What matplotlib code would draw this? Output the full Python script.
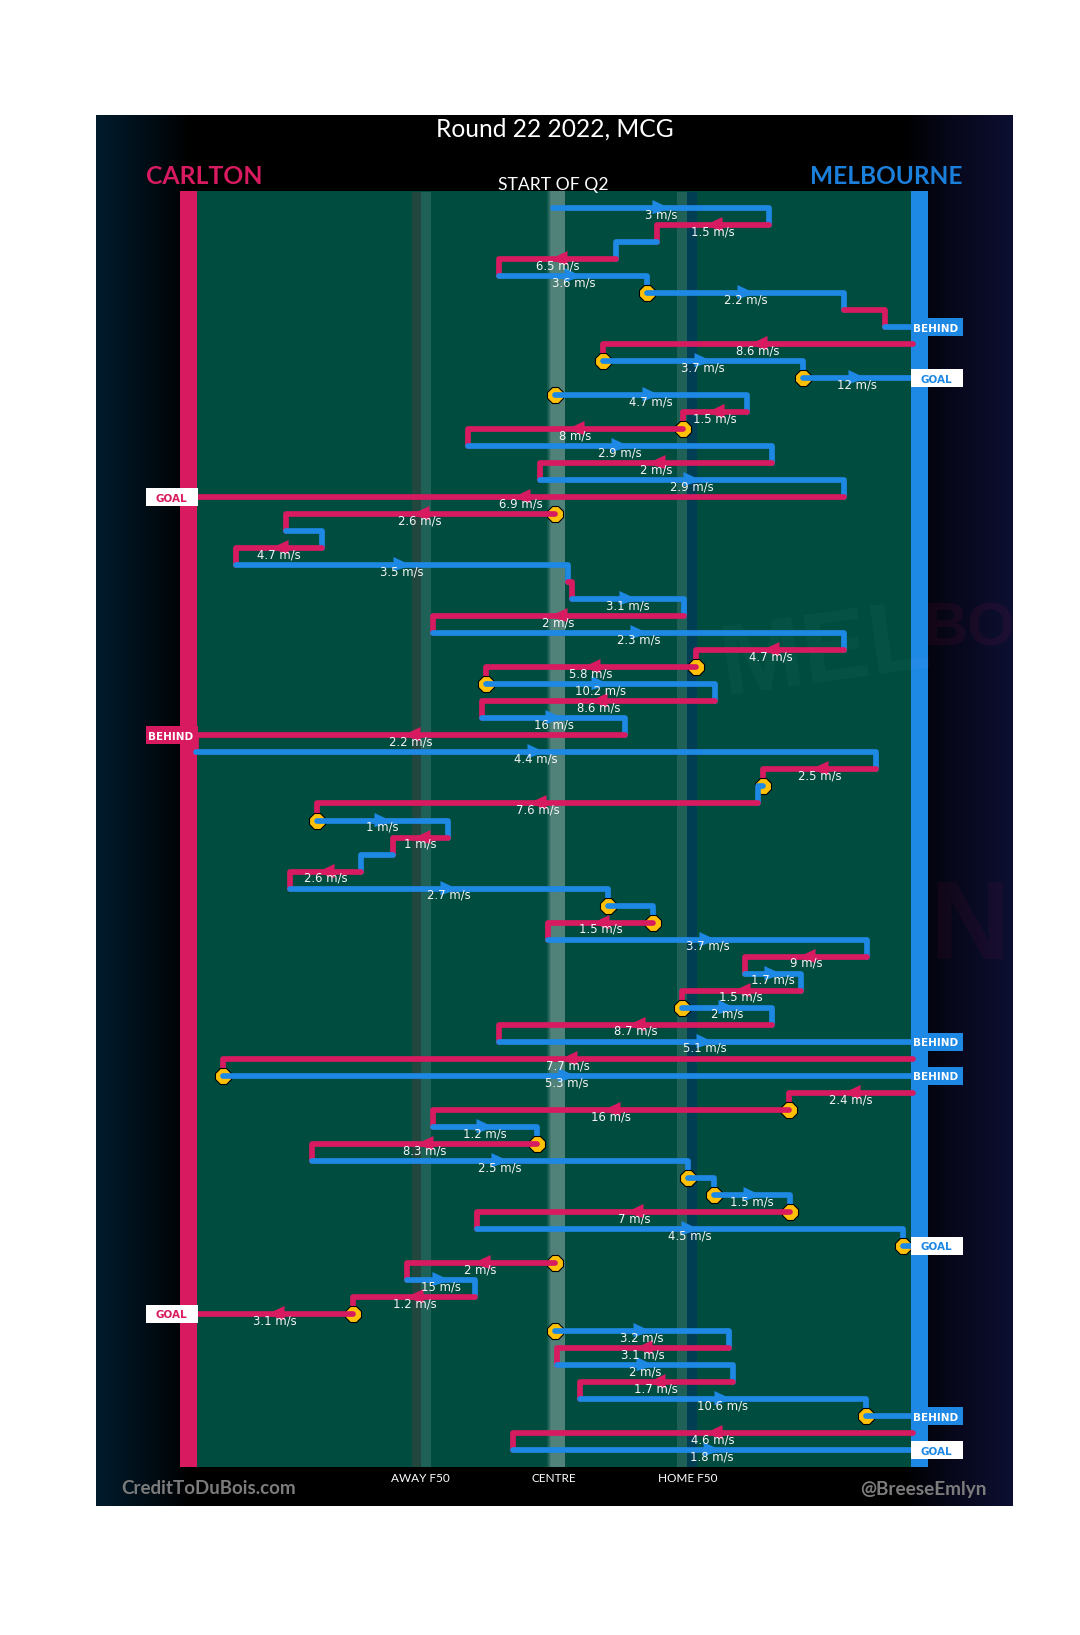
import numpy as np
import matplotlib
matplotlib.use("Agg")
import matplotlib.pyplot as plt
from matplotlib.patches import Rectangle
from matplotlib.path import Path

RED, BLUE, FIELD, YEL = "#D81B60", "#1E88E5", "#004D40", "#FFC107"

# one entry per row of the chart: team, from, to, speed label
team = ["B","R","B","R","B","B","R","B","R","B","B","B","R","R","B","R","B","R","R","B","R","B","R","B","R","B","R","R","B","R","B","R","B","R","B","R","B","R","B","R","B","B","R","B","R","B","R","B","R","B","R","B","R","R","B","R","B","B","B","R","B","B","R","B","R","R","B","R","B","R","B","B","R","B"]
x_from = [530,738,630,591,479,621,810,849,876,578,770,532,717,655,449,741,518,810,532,274,309,226,545,549,656,415,810,668,466,686,462,600,188,840,732,727,304,430,377,346,278,583,626,526,832,715,768,654,741,479,876,214,876,757,415,515,299,660,685,758,458,866,532,390,456,339,532,699,534,703,556,831,876,492]
x_to   = [738,630,591,479,621,810,849,874,578,770,874,717,655,449,741,518,810,189,274,309,226,545,549,656,415,810,668,466,686,462,600,188,840,732,727,304,430,377,346,278,583,626,526,832,715,768,654,741,479,874,214,874,757,415,515,299,660,685,758,458,866,874,390,456,339,189,699,534,703,556,831,874,492,874]
speed  = ["3","1.5","","6.5","3.6","2.2","","","8.6","3.7","12","4.7","1.5","8","2.9","2","2.9","6.9","2.6","","4.7","3.5","","3.1","2","2.3","4.7","5.8","10.2","8.6","16","2.2","4.4","2.5","","7.6","1","1","","2.6","2.7","","1.5","3.7","9","1.7","1.5","2","8.7","5.1","7.7","5.3","2.4","16","1.2","8.3","2.5","","1.5","7","4.5","","2","15","1.2","3.1","3.2","3.1","2","1.7","10.6","","4.6","1.8"]
stoppage_rows = [5,9,10,11,13,18,27,28,34,36,41,42,47,51,53,55,57,58,59,61,62,65,66,71]
score_rows = {7:"BEHIND",10:"GOAL",17:"GOAL",31:"BEHIND",49:"BEHIND",51:"BEHIND",61:"GOAL",65:"GOAL",71:"BEHIND",73:"GOAL"}
strip_labels = ["AWAY F50","CENTRE","HOME F50"]

W, H = 1080, 1635
fig = plt.figure(figsize=(W/100, H/100), dpi=100, facecolor="white")
ax = fig.add_axes([0, 0, 1, 1])
S = 1080/1036          # x units -> pixels
STEP = 17.014; Y0 = 208
px = lambda v: v/S                 # pixel x -> data x
py = lambda v: (v-Y0)/STEP         # pixel y -> data y
ax.axis("off")

# panel with side gradients
grad = np.zeros((1, 917, 3))
for i, x in enumerate(np.arange(917) + 96):
    if x < 190:
        grad[0, i] = np.array([0, 27, 44])/255*((190-x)/94)**0.9
    elif x > 905:
        grad[0, i] = np.array([13, 15, 50])/255*((x-905)/108)**0.8
ax.imshow(grad, extent=[px(96), px(1013), py(1506), py(115)], aspect="auto", zorder=0, interpolation="bilinear")
ax.set_xlim(0, W/S)
ax.set_ylim((H-Y0)/STEP, -Y0/STEP)

def rect(x0, x1, y0, y1, c, z=1):
    ax.add_patch(Rectangle((px(x0), py(y0)), px(x1)-px(x0), py(y1)-py(y0), fc=c, ec="none", zorder=z))

T, B = 191, 1467
rect(197, 911, T, B, FIELD)
rect(180, 197, T, B, RED)
rect(911, 928, T, B, BLUE)
rect(411.7, 421.5, T+1, B, "#21473E", 1.1)
rect(421.5, 431, T+1, B, "#1F6157", 1.1)
rect(676.7, 687, T+1, B, "#1F6157", 1.1)
rect(687, 697, T+1, B, "#003E54", 1.1)
rect(547, 565, T, B, "#50827A", 1.1)
for i, c in enumerate(["#0E5C50", "#205F55", "#336F66", "#43796F"]):
    rect(547+i, 548+i, T, B, c, 1.15)

# faint watermark
ax.text(px(825), py(655), "MEL", fontsize=72, fontweight="bold", family="Liberation Sans",
        rotation=8, color="white", alpha=0.028, ha="center", va="center", zorder=1.2)
ax.text(px(970), py(630), "BO", fontsize=44, fontweight="bold", family="Liberation Sans",
        color="#D81B60", alpha=0.08, ha="center", va="center", zorder=1.2)
ax.text(px(970), py(930), "N", fontsize=80, fontweight="bold", family="Liberation Sans",
        color="#D81B60", alpha=0.06, ha="center", va="center", zorder=1.2)

tri_r = Path([(-8, -5), (8, 0), (-8, 7.5), (-8, -5)], closed=True)
tri_l = Path([(8, -5), (-8, 0), (8, 7.5), (8, -5)], closed=True)

for i in range(len(team)):
    col = RED if team[i] == "R" else BLUE
    z = 3 + i*0.001
    if i in stoppage_rows:
        ax.plot([x_from[i]], [i], ls="none", marker="8", ms=12.8, mfc=YEL, mec="black", mew=0.8, zorder=z-0.0005)
    xx = [x_from[i], x_to[i]]
    yy = [i, i]
    if i+1 < len(team) and x_from[i+1] == x_to[i]:
        xx.append(x_to[i]); yy.append(i+1)
    ax.plot(xx, yy, color=col, lw=4.1, solid_capstyle="round", solid_joinstyle="round", zorder=z)
    if speed[i]:
        mid = (x_from[i]+x_to[i])/2
        ax.plot([mid], [i], ls="none", marker=tri_r if x_to[i] > x_from[i] else tri_l, ms=13,
                mfc=col, mec="none", zorder=z)
        ax.text(mid, i+0.40, f"{speed[i]} m/s", color="#F4F4F4", fontsize=8.4, family="DejaVu Sans",
                ha="center", va="center", zorder=5)

# score tags
for r, kind in score_rows.items():
    left = x_to[r] < 400
    c = RED if left else BLUE
    x0, x1 = (146, 198) if left else (911, 963)
    goal = kind == "GOAL"
    rect(x0, x1, STEP*r+Y0-9, STEP*r+Y0+9, "white" if goal else c, 4)
    ax.text(px((x0+x1)/2-1), r+0.09, kind, color=c if goal else "white", fontsize=7.5, fontweight="bold",
            family="DejaVu Sans", ha="center", va="center", zorder=6)

# headings
F = "Lato"
ax.text(px(554.5), py(129.5), "Round 22 2022, MCG", color="white", fontsize=17.7, family=F, ha="center", va="center", zorder=6)
ax.text(px(146), py(177), "CARLTON", color=RED, fontsize=17.8, family=F, fontweight="bold", ha="left", va="center", zorder=6)
ax.text(px(962), py(177), "MELBOURNE", color="#1B80DC", fontsize=17.6, family=F, fontweight="bold", ha="right", va="center", zorder=6)
ax.text(px(553.5), py(185), "START OF Q2", color="white", fontsize=12.6, family=F, ha="center", va="center", zorder=6)
for x, s in zip([420, 554, 688], strip_labels):
    ax.text(px(x), py(1478), s, color="white", fontsize=8.5, family=F, ha="center", va="center", zorder=6)
ax.text(px(121), py(1489), "CreditToDuBois.com", color="#7C7C7C", fontsize=13.5, family=F, fontweight="bold", ha="left", va="center", zorder=6)
ax.text(px(987), py(1489), "@BreeseEmlyn", color="#7C7C7C", fontsize=13.7, family=F, fontweight="bold", ha="right", va="center", zorder=6)

fig.savefig("out.png", dpi=100, facecolor="white")
